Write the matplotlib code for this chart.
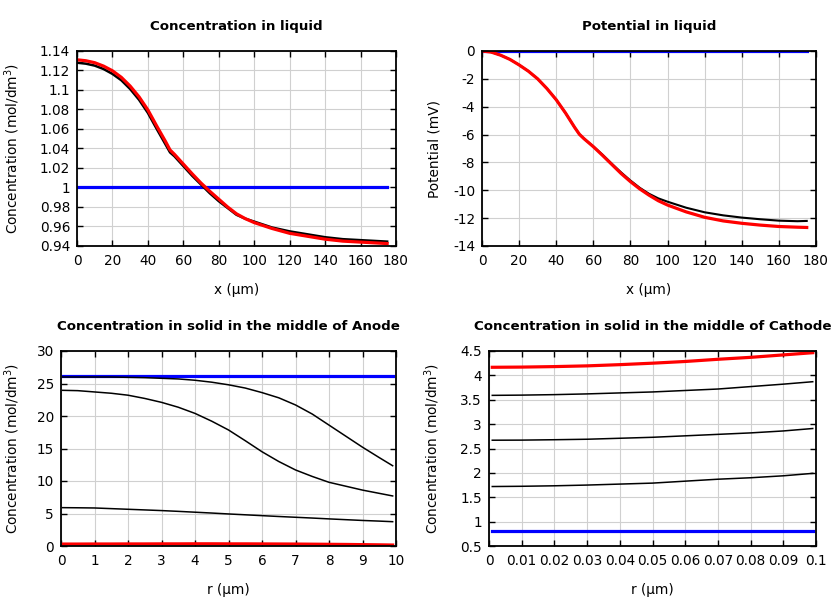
import matplotlib
matplotlib.use('Agg')
import matplotlib.pyplot as plt
from matplotlib.transforms import blended_transform_factory
from matplotlib.ticker import FuncFormatter, MultipleLocator

# ---- data ----
# liquid phase, x in um
x_liq = [0, 5, 10, 15, 20, 25, 30, 35, 40, 45, 50, 52.5, 55, 60, 65, 70, 75, 80,
         85, 90, 95, 100, 110, 120, 130, 140, 150, 160, 170, 175]
c_liq_init = [1.0] * len(x_liq)
c_liq_mid = [1.128, 1.127, 1.125, 1.1215, 1.1165, 1.110, 1.101, 1.090, 1.0765, 1.060,
             1.044, 1.036, 1.032, 1.022, 1.012, 1.003, 0.994, 0.986, 0.979, 0.972,
             0.968, 0.965, 0.959, 0.955, 0.952, 0.949, 0.947, 0.946, 0.945, 0.9445]
c_liq_final = [1.131, 1.130, 1.128, 1.1245, 1.1197, 1.113, 1.104, 1.093, 1.0795, 1.063,
               1.047, 1.0385, 1.034, 1.024, 1.014, 1.0045, 0.996, 0.988, 0.980, 0.973,
               0.968, 0.964, 0.958, 0.953, 0.950, 0.947, 0.945, 0.944, 0.943, 0.9425]

phi_init = [0.0] * len(x_liq)
phi_mid = [0, -0.08, -0.3, -0.6, -1.0, -1.45, -2.0, -2.7, -3.5, -4.45, -5.5, -5.98,
           -6.3, -6.85, -7.45, -8.1, -8.72, -9.3, -9.82, -10.25, -10.58, -10.82,
           -11.25, -11.58, -11.8, -11.96, -12.08, -12.18, -12.22, -12.2]
phi_final = [0, -0.08, -0.3, -0.6, -1.0, -1.45, -2.0, -2.7, -3.5, -4.45, -5.5, -5.98,
             -6.3, -6.87, -7.5, -8.15, -8.8, -9.38, -9.9, -10.35, -10.75, -11.06,
             -11.55, -11.94, -12.2, -12.37, -12.5, -12.6, -12.65, -12.67]

# solid phase, anode
r_an = [0.05, 0.5, 1, 1.5, 2, 2.5, 3, 3.5, 4, 4.5, 5, 5.5, 6, 6.5, 7, 7.5, 8, 8.5,
        9, 9.5, 9.9]
cs_an_init = [26.1] * len(r_an)
cs_an_mid = [
    [26.0, 26.0, 26.0, 26.0, 25.95, 25.9, 25.8, 25.7, 25.5, 25.2, 24.8, 24.3, 23.6,
     22.8, 21.7, 20.3, 18.6, 16.9, 15.2, 13.6, 12.35],
    [23.95, 23.9, 23.7, 23.5, 23.2, 22.7, 22.1, 21.35, 20.4, 19.2, 17.85, 16.2, 14.5,
     13.0, 11.7, 10.7, 9.8, 9.2, 8.6, 8.1, 7.7],
    [5.9, 5.88, 5.85, 5.75, 5.65, 5.55, 5.45, 5.33, 5.2, 5.07, 4.93, 4.8, 4.67, 4.54,
     4.42, 4.3, 4.17, 4.05, 3.93, 3.83, 3.74],
]
cs_an_final = [0.30, 0.30, 0.31, 0.31, 0.32, 0.32, 0.33, 0.33, 0.34, 0.34, 0.33,
               0.33, 0.32, 0.31, 0.30, 0.28, 0.26, 0.24, 0.21, 0.18, 0.15]

# solid phase, cathode
r_ca = [0.001, 0.01, 0.02, 0.03, 0.04, 0.05, 0.06, 0.07, 0.08, 0.09, 0.099]
cs_ca_init = [0.8] * len(r_ca)
cs_ca_mid = [
    [3.59, 3.595, 3.605, 3.62, 3.64, 3.66, 3.69, 3.72, 3.77, 3.82, 3.87],
    [2.67, 2.672, 2.68, 2.69, 2.71, 2.73, 2.76, 2.79, 2.82, 2.86, 2.91],
    [1.72, 1.725, 1.735, 1.75, 1.77, 1.79, 1.83, 1.87, 1.90, 1.94, 1.99],
]
cs_ca_final = [4.166, 4.17, 4.18, 4.195, 4.22, 4.25, 4.285, 4.33, 4.37, 4.42, 4.465]

plt.rcParams['font.family'] = ['DejaVu Sans']
BLUE, RED, BLACK = '#0000ff', '#ff0000', '#000000'
GRID = '#d0d0d0'
gfmt = FuncFormatter(lambda v, p: '%g' % round(v, 6))

fig = plt.figure(figsize=(8.4, 6), dpi=100)


def px_axes(left, top, right, bottom):
    return fig.add_axes([left / 840, 1 - bottom / 600, (right - left) / 840,
                         (bottom - top) / 600])


def style(ax, title, xlabel, ylabel, xlim, ylim, xstep, ystep, ylab_x, xlab_y):
    ax.set_xlim(*xlim)
    ax.set_ylim(*ylim)
    ax.xaxis.set_major_locator(MultipleLocator(xstep))
    ax.yaxis.set_major_locator(MultipleLocator(ystep))
    ax.xaxis.set_major_formatter(gfmt)
    ax.yaxis.set_major_formatter(gfmt)
    ax.tick_params(direction='in', top=True, right=True, length=4, width=1,
                   labelsize=9.8, colors='black')
    ax.tick_params(axis='x', pad=6)
    ax.tick_params(axis='y', pad=5)
    for s in ax.spines.values():
        s.set_linewidth(1.3)
    ax.grid(True, color=GRID, linewidth=0.8)
    ax.set_axisbelow(True)
    ax.set_title(title, fontsize=9.6, fontweight='bold', pad=15)
    ax.set_xlabel(xlabel, fontsize=9.8)
    ax.set_ylabel(ylabel, fontsize=9.8)
    ax.xaxis.set_label_coords(
        0.5, 1 - xlab_y / 600,
        transform=blended_transform_factory(ax.transAxes, fig.transFigure))
    ax.yaxis.set_label_coords(
        ylab_x / 840, 0.5,
        transform=blended_transform_factory(fig.transFigure, ax.transAxes))


conc_label = 'Concentration (mol/dm$^3$)'

# 1. concentration in liquid
ax1 = px_axes(77, 51, 396, 246)
ax1.plot(x_liq, c_liq_init, color=BLUE, lw=2.3)
ax1.plot(x_liq, c_liq_mid, color=BLACK, lw=1.8)
ax1.plot(x_liq, c_liq_final, color=RED, lw=2.3)
style(ax1, 'Concentration in liquid', 'x (µm)', conc_label,
      (0, 180), (0.94, 1.14), 20, 0.02, 22, 283)

# 2. potential in liquid
ax2 = px_axes(482, 51, 816, 246)
ax2.plot(x_liq, phi_init, color=BLUE, lw=2.3)
ax2.plot(x_liq, phi_mid, color=BLACK, lw=1.5)
ax2.plot(x_liq, phi_final, color=RED, lw=2.3)
style(ax2, 'Potential in liquid', 'x (µm)', 'Potential (mV)',
      (0, 180), (-14, 0), 20, 2, 442, 283)

# 3. solid concentration, anode
ax3 = px_axes(61, 351, 396, 546)
ax3.plot(r_an, cs_an_init, color=BLUE, lw=2.3)
for curve in cs_an_mid:
    ax3.plot(r_an, curve, color=BLACK, lw=1.1)
ax3.plot(r_an, cs_an_final, color=RED, lw=2.3)
style(ax3, 'Concentration in solid in the middle of Anode', 'r (µm)', conc_label,
      (0, 10), (0, 30), 1, 5, 22, 583)

# 4. solid concentration, cathode
ax4 = px_axes(489, 351, 816, 546)
ax4.plot(r_ca, cs_ca_init, color=BLUE, lw=2.3)
for curve in cs_ca_mid:
    ax4.plot(r_ca, curve, color=BLACK, lw=1.1)
ax4.plot(r_ca, cs_ca_final, color=RED, lw=2.3)
style(ax4, 'Concentration in solid in the middle of Cathode', 'r (µm)', conc_label,
      (0, 0.1), (0.5, 4.5), 0.01, 0.5, 442, 583)

fig.savefig('out.png', dpi=100)
